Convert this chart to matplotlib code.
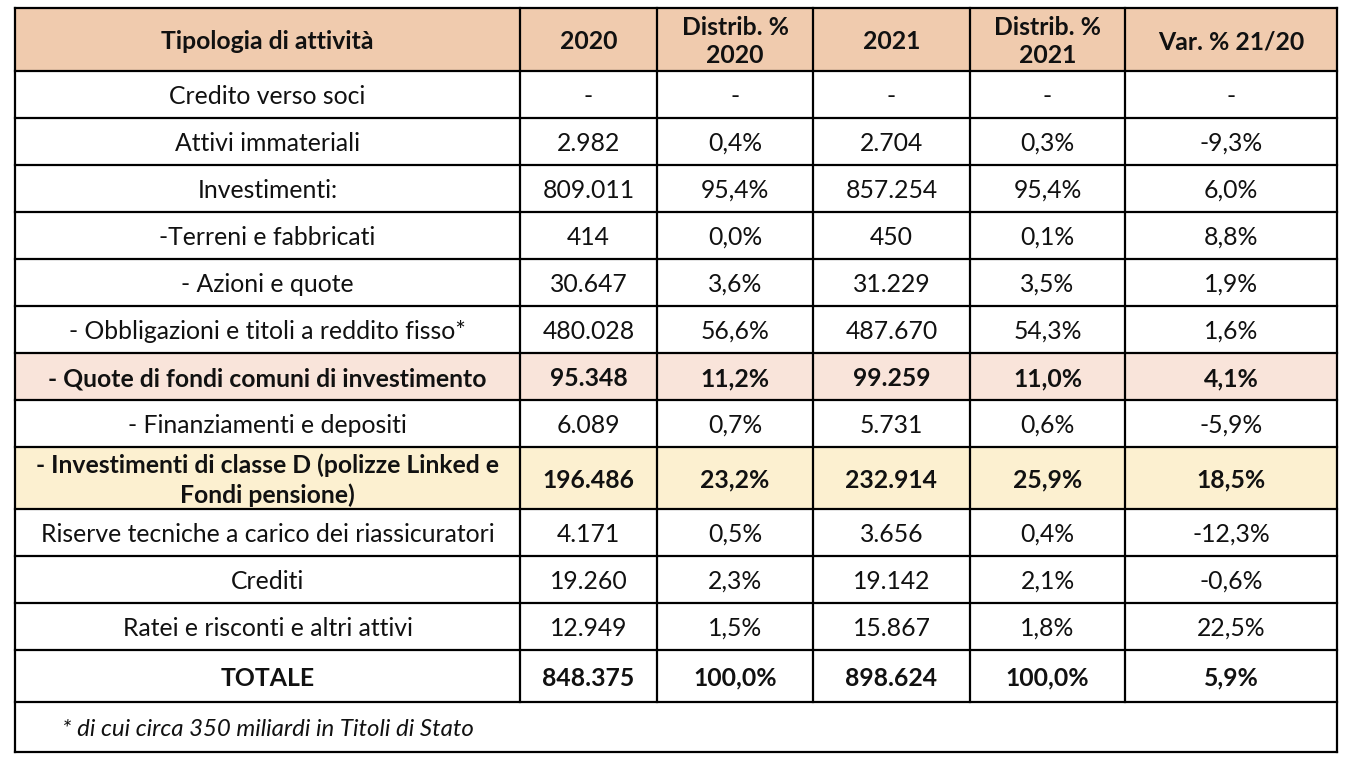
import matplotlib.pyplot as plt

plt.rcParams['font.family'] = ['Lato', 'DejaVu Sans']

# table data
header = ['Tipologia di attività', '2020', 'Distrib. %\n2020', '2021',
          'Distrib. %\n2021', 'Var. % 21/20']
labels = ['Credito verso soci', 'Attivi immateriali', 'Investimenti:',
          '-Terreni e fabbricati', '- Azioni e quote',
          '- Obbligazioni e titoli a reddito fisso*',
          '- Quote di fondi comuni di investimento',
          '- Finanziamenti e depositi',
          '- Investimenti di classe D (polizze Linked e\nFondi pensione)',
          'Riserve tecniche a carico dei riassicuratori', 'Crediti',
          'Ratei e risconti e altri attivi', 'TOTALE']
val_2020 = [None, 2982, 809011, 414, 30647, 480028, 95348, 6089, 196486,
            4171, 19260, 12949, 848375]
dist_2020 = [None, 0.4, 95.4, 0.0, 3.6, 56.6, 11.2, 0.7, 23.2, 0.5, 2.3, 1.5, 100.0]
val_2021 = [None, 2704, 857254, 450, 31229, 487670, 99259, 5731, 232914,
            3656, 19142, 15867, 898624]
dist_2021 = [None, 0.3, 95.4, 0.1, 3.5, 54.3, 11.0, 0.6, 25.9, 0.4, 2.1, 1.8, 100.0]
var_21_20 = [None, -9.3, 6.0, 8.8, 1.9, 1.6, 4.1, -5.9, 18.5, -12.3, -0.6, 22.5, 5.9]
bold_rows = ['- Quote di fondi comuni di investimento',
             '- Investimenti di classe D (polizze Linked e\nFondi pensione)',
             'TOTALE']
row_fill = {6: '#F9E4DA', 8: '#FCF0D0'}
footnote = '* di cui circa 350 miliardi in Titoli di Stato'

# layout in pixels
col_x = [15, 520, 657, 813, 970, 1125, 1337]
row_y = [8, 71, 118, 165, 212, 259, 306, 353, 400, 447, 509, 556, 603, 650, 702, 752]
fs = 17.8
dy = 2
ls = 1.3


def fmt_int(v):
    return '-' if v is None else f'{v:,}'.replace(',', '.')


def fmt_pct(v):
    return '-' if v is None else f'{v:.1f}%'.replace('.', ',')


fig = plt.figure(figsize=(13.52, 7.66), dpi=100)
ax = fig.add_axes([0, 0, 1, 1])
ax.set_xlim(0, 1352)
ax.set_ylim(766, 0)
ax.axis('off')

# backgrounds
ax.fill_between([col_x[0], col_x[-1]], row_y[0], row_y[1], color='#F0CBAE', lw=0)
for i, c in row_fill.items():
    ax.fill_between([col_x[0], col_x[-1]], row_y[i + 1], row_y[i + 2], color=c, lw=0)

# header
for j, h in enumerate(header):
    ax.text((col_x[j] + col_x[j + 1]) / 2, (row_y[0] + row_y[1]) / 2 + dy, h,
            ha='center', va='center', multialignment='center', fontsize=fs,
            fontweight='bold', linespacing=ls, color='#111111')

# body
for i, lab in enumerate(labels):
    yc = (row_y[i + 1] + row_y[i + 2]) / 2 + dy
    w = 'bold' if lab in bold_rows else 'normal'
    cells = [lab, fmt_int(val_2020[i]), fmt_pct(dist_2020[i]),
             fmt_int(val_2021[i]), fmt_pct(dist_2021[i]), fmt_pct(var_21_20[i])]
    for j, s in enumerate(cells):
        ax.text((col_x[j] + col_x[j + 1]) / 2, yc, s, ha='center', va='center',
                multialignment='center', fontsize=fs, fontweight=w,
                linespacing=ls, color='#111111')

ax.text((col_x[0] + col_x[1]) / 2, (row_y[-2] + row_y[-1]) / 2 + dy, footnote,
        ha='center', va='center', fontsize=fs - 0.5, style='italic', color='#111111')

# grid lines
lw = 1.6
for y in row_y:
    ax.plot([col_x[0], col_x[-1]], [y, y], color='black', lw=lw, solid_capstyle='projecting')
for x in col_x:
    y_end = row_y[-1] if x in (col_x[0], col_x[-1]) else row_y[-2]
    ax.plot([x, x], [row_y[0], y_end], color='black', lw=lw, solid_capstyle='projecting')

fig.savefig('out.png', dpi=100)
